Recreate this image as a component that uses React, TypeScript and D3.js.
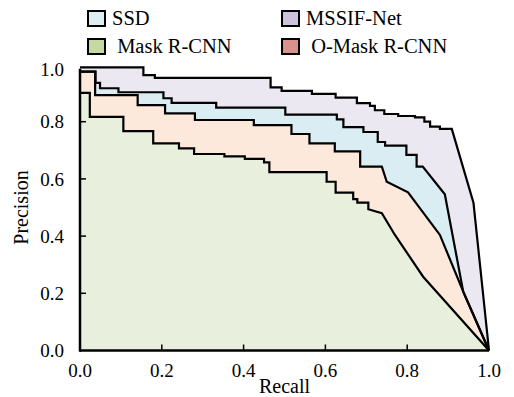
import * as d3 from "d3";

// PR curve vertices: [recall, precision]
const mssifNet: [number, number][] = [
  [0, 0.99], [0.155, 0.99], [0.155, 0.963], [0.183, 0.963], [0.183, 0.953],
  [0.466, 0.953], [0.466, 0.92], [0.493, 0.92], [0.493, 0.908], [0.567, 0.908],
  [0.567, 0.897], [0.625, 0.897], [0.625, 0.884], [0.677, 0.884], [0.677, 0.865],
  [0.709, 0.865], [0.709, 0.855], [0.721, 0.855], [0.721, 0.84], [0.744, 0.84],
  [0.744, 0.827], [0.778, 0.827], [0.778, 0.82], [0.819, 0.82], [0.819, 0.815],
  [0.842, 0.815], [0.842, 0.8], [0.856, 0.8], [0.856, 0.783], [0.88, 0.783],
  [0.88, 0.775], [0.909, 0.775], [0.962, 0.517], [1, 0],
];

const ssd: [number, number][] = [
  [0, 0.975], [0.038, 0.975], [0.038, 0.936], [0.049, 0.936], [0.049, 0.917],
  [0.094, 0.917], [0.094, 0.903], [0.204, 0.903], [0.204, 0.882], [0.224, 0.882],
  [0.224, 0.866], [0.333, 0.866], [0.333, 0.849], [0.502, 0.849], [0.502, 0.825],
  [0.628, 0.825], [0.628, 0.808], [0.644, 0.808], [0.644, 0.781], [0.693, 0.781],
  [0.693, 0.764], [0.728, 0.764], [0.728, 0.729], [0.746, 0.729], [0.746, 0.716],
  [0.798, 0.716], [0.798, 0.684], [0.823, 0.684], [0.823, 0.643], [0.838, 0.643],
  [0.892, 0.546], [0.937, 0.206], [1, 0],
];

const oMaskRcnn: [number, number][] = [
  [0, 0.975], [0.037, 0.975], [0.037, 0.893], [0.141, 0.893], [0.141, 0.858],
  [0.208, 0.858], [0.208, 0.829], [0.281, 0.829], [0.281, 0.806], [0.425, 0.806],
  [0.425, 0.788], [0.517, 0.788], [0.517, 0.757], [0.561, 0.757], [0.561, 0.724],
  [0.623, 0.724], [0.623, 0.696], [0.685, 0.696], [0.685, 0.643], [0.738, 0.643],
  [0.75, 0.59], [0.802, 0.553], [0.88, 0.404], [0.937, 0.206], [1, 0],
];

const maskRcnn: [number, number][] = [
  [0, 0.901], [0.024, 0.901], [0.024, 0.817], [0.106, 0.817], [0.106, 0.767],
  [0.179, 0.767], [0.179, 0.724], [0.242, 0.724], [0.242, 0.707], [0.279, 0.707],
  [0.279, 0.687], [0.353, 0.687], [0.353, 0.679], [0.403, 0.679], [0.403, 0.67],
  [0.45, 0.67], [0.45, 0.658], [0.463, 0.658], [0.463, 0.624], [0.603, 0.624],
  [0.603, 0.59], [0.625, 0.59], [0.625, 0.552], [0.668, 0.552], [0.668, 0.529],
  [0.678, 0.529], [0.678, 0.517], [0.705, 0.517], [0.705, 0.494], [0.738, 0.48],
  [0.77, 0.404], [0.839, 0.258], [1, 0],
];

const xTicks = [0, 0.2, 0.4, 0.6, 0.8, 1.0];
const yTicks = [0, 0.2, 0.4, 0.6, 0.8, 1.0];

const legendLabels = ["SSD", "MSSIF-Net", " Mask R-CNN", " O-Mask R-CNN"];
const legendColors = ["#dcedf4", "#cdc2dd", "#c6d9a2", "#d9928b"];

// back to front
const layers = [
  { data: mssifNet, fill: "#ece8f1" },
  { data: ssd, fill: "#daedf3" },
  { data: oMaskRcnn, fill: "#fce9dc" },
  { data: maskRcnn, fill: "#e8efdc" },
];

const W = 514;
const H = 397;
const FONT = "'Liberation Serif', 'Times New Roman', serif";

export default function App() {
  const x = d3.scaleLinear().domain([0, 1]).range([80, 489]);
  const y = d3.scaleLinear().domain([0, 1]).range([350.5, 64.5]);

  const area = d3.area<[number, number]>()
    .x(d => x(d[0]))
    .y0(y(0))
    .y1(d => y(d[1]));
  const line = d3.line<[number, number]>()
    .x(d => x(d[0]))
    .y(d => y(d[1]));

  return (
    <svg width={W} height={H} style={{ position: "absolute", left: 0, top: 0 }} fontFamily={FONT}>
      <rect width={W} height={H} fill="#fff" />

      {layers.map((l, i) => (
        <path key={"a" + i} d={area(l.data) ?? ""} fill={l.fill} />
      ))}
      {layers.map((l, i) => (
        <path key={"l" + i} d={line(l.data) ?? ""} fill="none" stroke="#000" strokeWidth={2.2} strokeLinejoin="miter" />
      ))}

      {/* axes */}
      <line x1={x(0)} x2={x(1)} y1={y(0)} y2={y(0)} stroke="#000" strokeWidth={2.5} />
      <line x1={x(0)} x2={x(0)} y1={y(0) + 1.25} y2={y(0.985)} stroke="#000" strokeWidth={2.5} />
      {xTicks.slice(1, -1).map(t => (
        <line key={"xt" + t} x1={x(t)} x2={x(t)} y1={y(0)} y2={y(0) - 6} stroke="#000" strokeWidth={1.5} />
      ))}
      {yTicks.slice(1, -1).map(t => (
        <line key={"yt" + t} x1={x(0)} x2={x(0) + 6} y1={y(t)} y2={y(t)} stroke="#000" strokeWidth={1.5} />
      ))}
      {xTicks.map(t => (
        <text key={"xl" + t} x={x(t)} y={377} textAnchor="middle" fontSize={19}>{t.toFixed(1)}</text>
      ))}
      {yTicks.map(t => (
        <text key={"yl" + t} x={64} y={Math.max(y(t), 69)} dy="0.35em" textAnchor="end" fontSize={19}>{t.toFixed(1)}</text>
      ))}
      <text x={(x(0) + x(1)) / 2} y={393} textAnchor="middle" fontSize={20}>Recall</text>
      <text transform={`translate(28,${(y(0) + y(1)) / 2}) rotate(-90)`} textAnchor="middle" fontSize={20}>Precision</text>

      {/* legend */}
      {legendLabels.map((lab, i) => {
        const col = i % 2;
        const row = Math.floor(i / 2);
        const bx = col === 0 ? 88 : 282;
        const by = row === 0 ? 11 : 39;
        return (
          <g key={lab}>
            <rect x={bx} y={by} width={17} height={15} fill={legendColors[i]} stroke="#000" strokeWidth={2} />
            <text x={bx + 24} y={by + 14} fontSize={20.5} style={{ whiteSpace: "pre" }}>{lab}</text>
          </g>
        );
      })}
    </svg>
  );
}
